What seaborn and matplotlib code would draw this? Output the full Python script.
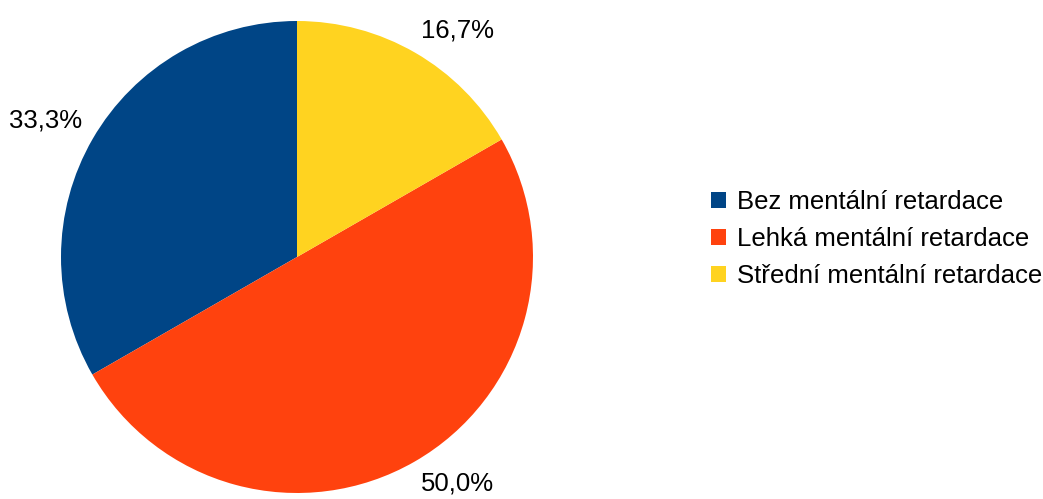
import numpy as np
import matplotlib
matplotlib.use("Agg")
import matplotlib.pyplot as plt
import seaborn as sns
from matplotlib.patches import Patch

sns.set_theme(style="white")
plt.rcParams["font.family"] = ["Liberation Sans", "DejaVu Sans"]
plt.rcParams["text.color"] = "black"

# Share of each group (percent)
categories = ["Bez mentální retardace", "Lehká mentální retardace", "Střední mentální retardace"]
shares = [33.3, 50.0, 16.7]
colors = ["#004586", "#ff420e", "#ffd320"]

W, H = 1043, 499
fig = plt.figure(figsize=(W / 100, H / 100), dpi=100)
ax = fig.add_axes([0, 0, 1, 1])

cx, cy, r = 297, H - 257, 236
wedges, _ = ax.pie(shares, colors=colors, startangle=90, counterclock=True,
                   center=(cx, cy), radius=r, frame=True,
                   wedgeprops=dict(linewidth=0))
ax.set_xlim(0, W)
ax.set_ylim(0, H)
ax.set_aspect("equal")
ax.axis("off")

# Percentage labels just outside each wedge, aligned away from the pie
for w, v in zip(wedges, shares):
    ang = np.deg2rad((w.theta1 + w.theta2) / 2)
    x = cx + 1.05 * r * np.cos(ang)
    y = cy + 1.05 * r * np.sin(ang)
    ha = "left" if np.cos(ang) >= 0 else "right"
    va = "bottom" if np.sin(ang) >= 0 else "top"
    ax.text(x, y, f"{v:.1f}%".replace(".", ","), ha=ha, va=va,
            fontsize=18.5, color="black")

handles = [Patch(facecolor=c, edgecolor="none", label=l) for c, l in zip(colors, categories)]
fig.legend(handles=handles, loc="center left", bbox_to_anchor=(0.682, 0.521),
           frameon=False, fontsize=18.5, labelcolor="black",
           handlelength=0.58, handleheight=0.58,
           handletextpad=0.4, labelspacing=0.5, borderaxespad=0, borderpad=0)

fig.savefig("out.png", dpi=100, facecolor="white")
